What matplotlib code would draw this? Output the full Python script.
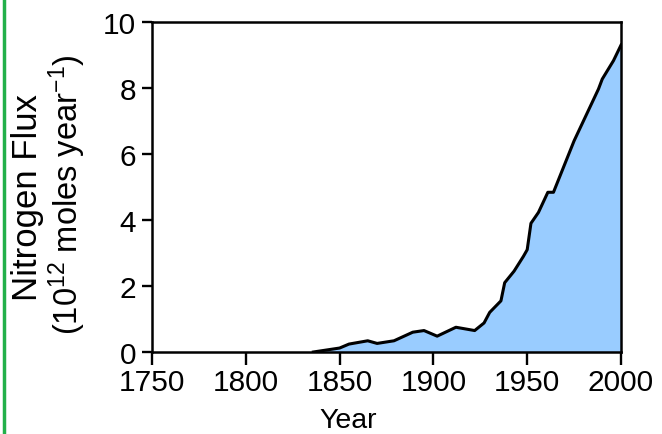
import matplotlib
matplotlib.use("Agg")
import matplotlib.pyplot as plt
from matplotlib.lines import Line2D

years = [1836, 1850, 1855, 1865, 1870, 1879, 1889, 1895, 1902, 1912, 1922, 1927,
         1930, 1936, 1938, 1943, 1948, 1950, 1952, 1956, 1961, 1964, 1975, 1988,
         1990, 1996, 2000]
flux = [0.0, 0.12, 0.24, 0.34, 0.26, 0.34, 0.6, 0.65, 0.48, 0.75, 0.65, 0.88,
        1.2, 1.55, 2.1, 2.45, 2.9, 3.1, 3.9, 4.23, 4.84, 4.84, 6.4, 7.97,
        8.27, 8.83, 9.3]
xticks = [1750, 1800, 1850, 1900, 1950, 2000]
yticks = [0, 2, 4, 6, 8, 10]

plt.rcParams['font.family'] = ['Liberation Sans', 'DejaVu Sans']
plt.rcParams['mathtext.fontset'] = 'custom'
plt.rcParams['mathtext.rm'] = 'Liberation Sans'
plt.rcParams['mathtext.it'] = 'Liberation Sans'
plt.rcParams['mathtext.default'] = 'regular'

W, H = 662, 435
fig = plt.figure(figsize=(W / 100, H / 100), dpi=100)
ax = fig.add_axes([152 / W, 1 - 353 / H, (621 - 152) / W, (353 - 23) / H])

ax.fill_between(years, flux, 0, color='#99CCFF', linewidth=0)
ax.plot(years, flux, color='black', linewidth=2.2, solid_joinstyle='round')

ax.set_xlim(1750, 2000)
ax.set_ylim(0, 10)
ax.set_xticks(xticks)
ax.set_yticks(yticks)
ax.tick_params(axis='both', direction='out', width=1.7, labelsize=21.5, color='black')
ax.tick_params(axis='x', length=9, pad=2.5)
ax.tick_params(axis='y', length=7.5, pad=4)
for s in ax.spines.values():
    s.set_linewidth(1.8)

fig.text(348 / W, 1 - 428 / H, 'Year', fontsize=20.5, ha='center', va='baseline')
fig.text(28 / W, 1 - 198 / H, 'Nitrogen Flux', fontsize=25, rotation=90,
         ha='center', va='center')
fig.text(67 / W, 1 - 195 / H, '(10$^{12}$ moles year$^{-1}$)', fontsize=23.5,
         rotation=90, ha='center', va='center')

fig.add_artist(Line2D([0.006, 0.006], [0, 1], transform=fig.transFigure,
                      color='#22B04A', linewidth=2.5))

fig.savefig('out.png', dpi=100)
